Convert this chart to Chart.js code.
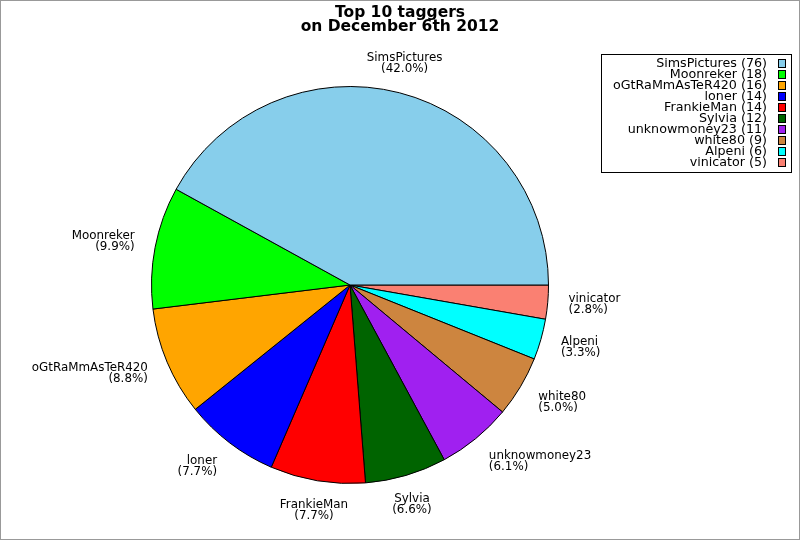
<!DOCTYPE html>
<html lang="en">
<head>
    <meta charset="UTF-8">
    <title>Top 10 taggers</title>
    <script src="https://cdn.jsdelivr.net/npm/chart.js"></script>
    <style>
        body { margin: 0; background: #fff; }
        canvas { display: block; }
    </style>
</head>
<body>
    <canvas id="taggerChart" width="800" height="540"></canvas>

    <script>
        // data, in the order of the legend
        const taggers = ['SimsPictures', 'Moonreker', 'oGtRaMmAsTeR420', 'loner', 'FrankieMan',
                         'Sylvia', 'unknowmoney23', 'white80', 'Alpeni', 'vinicator'];
        const tagCounts = [76, 18, 16, 14, 14, 12, 11, 9, 6, 5];
        const sliceColors = ['#87ceeb', '#00ff00', '#ffa500', '#0000ff', '#ff0000',
                             '#006400', '#a020f0', '#cd853f', '#00ffff', '#fa8072'];
        const titleLines = ['Top 10 taggers', 'on December 6th 2012'];

        const total = tagCounts.reduce((a, b) => a + b, 0);
        const pct = v => (v / total * 100).toFixed(1) + '%';

        // the reference goes counter-clockwise from 3 o'clock, Chart.js goes clockwise,
        // so feed the slices in reverse
        const revNames = taggers.slice().reverse();
        const revCounts = tagCounts.slice().reverse();
        const revColors = sliceColors.slice().reverse();

        const FONT = '"DejaVu Sans", Verdana, sans-serif';

        // title, outer frame, slice labels and the boxed legend
        const decorations = {
            id: 'decorations',
            afterDraw(chart) {
                const ctx = chart.ctx;
                const meta = chart.getDatasetMeta(0);
                ctx.save();

                // frame
                ctx.strokeStyle = '#999';
                ctx.lineWidth = 1;
                ctx.strokeRect(0.5, 0.5, chart.width - 1, chart.height - 1);

                // title
                ctx.fillStyle = '#000';
                ctx.font = 'bold 15.5px ' + FONT;
                ctx.textAlign = 'center';
                ctx.textBaseline = 'alphabetic';
                ctx.fillText(titleLines[0], 400, 17);
                ctx.fillText(titleLines[1], 400, 31);

                // slice labels
                ctx.font = '11.9px ' + FONT;
                ctx.textBaseline = 'middle';
                meta.data.forEach((arc, i) => {
                    const p = arc.getProps(['x', 'y', 'startAngle', 'endAngle', 'outerRadius'], true);
                    const mid = (p.startAngle + p.endAngle) / 2;
                    const r = p.outerRadius * 1.105;
                    const c = Math.cos(mid), s = Math.sin(mid);
                    const lx = p.x + c * r;
                    const ly = p.y + s * r + s * 9;
                    ctx.textAlign = Math.abs(c) < 0.35 ? 'center' : (c > 0 ? 'left' : 'right');
                    ctx.fillText(revNames[i], lx, ly - 5.5);
                    ctx.fillText('(' + pct(revCounts[i]) + ')', lx, ly + 5.5);
                });

                // legend
                ctx.strokeStyle = '#000';
                ctx.strokeRect(601.5, 54.5, 190, 118);
                ctx.font = '12.7px ' + FONT;
                ctx.textAlign = 'right';
                taggers.forEach((name, i) => {
                    const y = 64 + i * 11;
                    ctx.fillStyle = '#000';
                    ctx.fillText(name + ' (' + tagCounts[i] + ')', 767, y);
                    ctx.fillStyle = sliceColors[i];
                    ctx.fillRect(778.5, y - 4.5, 7, 8);
                    ctx.strokeRect(778.5, y - 4.5, 7, 8);
                });

                ctx.restore();
            }
        };

        new Chart(document.getElementById('taggerChart').getContext('2d'), {
            type: 'pie',
            data: {
                labels: revNames,
                datasets: [{
                    data: revCounts,
                    backgroundColor: revColors,
                    borderColor: '#000',
                    borderWidth: 1
                }]
            },
            options: {
                responsive: false,
                animation: false,
                rotation: 90,
                layout: { padding: { left: 151, right: 251, top: 86, bottom: 56 } },
                plugins: {
                    legend: { display: false },
                    title: { display: false },
                    tooltip: { enabled: false }
                }
            },
            plugins: [decorations]
        });
    </script>
</body>
</html>
